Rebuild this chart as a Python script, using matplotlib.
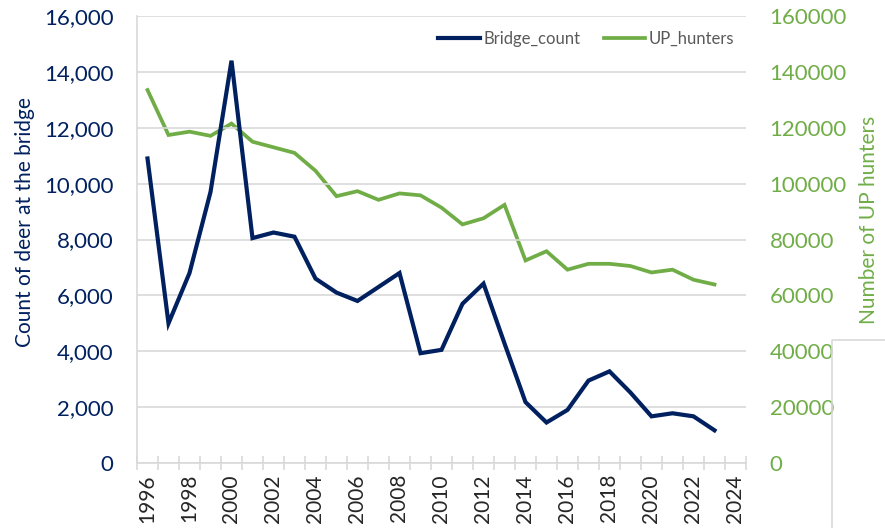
"""Deer counted at the bridge vs. number of UP hunters, 1996-2023."""

import matplotlib
matplotlib.use("Agg")
import matplotlib.pyplot as plt
from matplotlib.lines import Line2D
from matplotlib.ticker import FuncFormatter, MultipleLocator

plt.rcParams["font.family"] = ["Lato", "DejaVu Sans"]

years = list(range(1996, 2024))
bridge_count = [10900, 5000, 6800, 9700, 14400, 8050, 8250, 8100, 6600, 6100,
                5800, 6300, 6800, 3930, 4050, 5700, 6420, 4280, 2180, 1450,
                1900, 2950, 3280, 2520, 1670, 1780, 1670, 1170]
up_hunters = [133500, 117400, 118600, 117100, 121500, 115000, 113000, 111000,
              104600, 95500, 97300, 94200, 96500, 95800, 91400, 85400, 87600,
              92400, 72500, 75800, 69200, 71300, 71300, 70500, 68200, 69200,
              65600, 63900]

NAVY = "#002060"
GREEN = "#70AD47"
GRID = "#D9D9D9"

fig = plt.figure(figsize=(8.85, 5.28), dpi=100)
ax = fig.add_axes([137 / 885, 1 - 463 / 528, (746 - 137) / 885, (463 - 16) / 528])
ax2 = ax.twinx()

ax.plot(years, bridge_count, color=NAVY, lw=3.0, label="Bridge_count",
        solid_joinstyle="miter", zorder=3)
ax2.plot(years, up_hunters, color=GREEN, lw=2.7, label="UP_hunters",
         solid_joinstyle="miter", zorder=3)
ax.set_zorder(ax2.get_zorder() + 1)
ax.patch.set_visible(False)

# x axis: category style, labels every 2 years, ticks between years
ax.set_xlim(1995.5, 2024.5)
ax.set_xticks(range(1996, 2025, 2))
ax.set_xticks([y + 0.5 for y in range(1995, 2025)], minor=True)
ax.tick_params(axis="x", which="major", length=0, pad=8, labelsize=15,
               labelcolor="#262626", labelrotation=90)
ax.tick_params(axis="x", which="minor", direction="inout", length=10,
               color=GRID, width=1.2)

ax.set_ylim(0, 16000)
ax.yaxis.set_major_locator(MultipleLocator(2000))
ax.yaxis.set_major_formatter(FuncFormatter(lambda v, _: f"{int(v):,}"))
ax.tick_params(axis="y", length=0, pad=17, labelsize=16, labelcolor=NAVY)
ax.grid(axis="y", color=GRID, lw=1.2)
ax.set_axisbelow(True)

ax2.set_ylim(0, 160000)
ax2.yaxis.set_major_locator(MultipleLocator(20000))
ax2.tick_params(axis="y", length=0, pad=17, labelsize=16, labelcolor=GREEN)

for a in (ax, ax2):
    for side in ("top", "right"):
        a.spines[side].set_visible(False)
    a.spines["left"].set_color(GRID)
    a.spines["bottom"].set_color(GRID)
    a.spines["left"].set_linewidth(1.2)
    a.spines["bottom"].set_linewidth(1.2)
ax2.spines["left"].set_visible(False)
ax2.spines["bottom"].set_visible(False)

ax.set_ylabel("Count of deer at the bridge", fontsize=15, color=NAVY)
ax.yaxis.set_label_coords(-0.168, 0.54)
ax2.set_ylabel("Number of UP hunters", fontsize=15, color=GREEN)
ax2.yaxis.set_label_coords(1.186, 0.545)

handles = [ax.get_lines()[0], ax2.get_lines()[0]]
ax.legend(handles, [h.get_label() for h in handles], loc="upper right",
          bbox_to_anchor=(1.005, 1.0), ncol=2, frameon=False, fontsize=12,
          labelcolor="#595959", handlelength=2.5, handletextpad=0.2,
          columnspacing=1.4)

# gray outline of a neighbouring element cut off by the screenshot
fig.add_artist(Line2D([832 / 885, 832 / 885, 1.0], [0, 1 - 340 / 528, 1 - 340 / 528],
                      color=GRID, lw=1.2, transform=fig.transFigure))

fig.savefig("out.png", dpi=100)
